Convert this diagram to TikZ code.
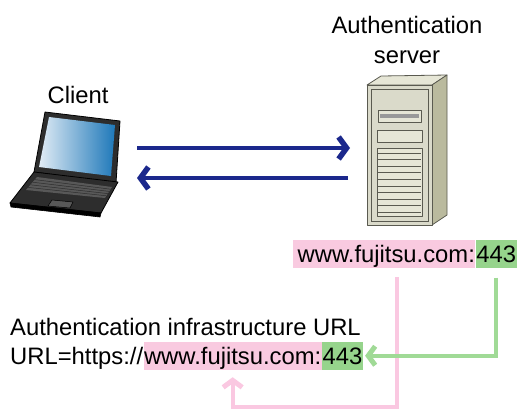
\documentclass[tikz,border=0pt]{standalone}
\usepackage{fontspec}
\setmainfont{Liberation Sans}
\usetikzlibrary{arrows.meta,calc}
\definecolor{navy}{RGB}{27,40,140}
\definecolor{hostpink}{RGB}{249,202,224}
\definecolor{portgreen}{RGB}{150,212,140}
\definecolor{linkpink}{RGB}{250,200,225}
\definecolor{linkgreen}{RGB}{160,218,150}
\definecolor{casefront}{RGB}{218,218,202}
\definecolor{caseside}{RGB}{186,186,158}
\definecolor{casetop}{RGB}{230,230,214}
\definecolor{caseline}{RGB}{90,90,80}
\definecolor{lapbody}{RGB}{45,45,45}
\definecolor{lapkeys}{RGB}{88,88,88}
\definecolor{screenlight}{RGB}{225,236,245}
\definecolor{screendark}{RGB}{30,120,185}
\begin{document}
\begin{tikzpicture}[x=1bp,y=-1bp,
  lbl/.style={inner sep=0pt, font=\fontsize{23.8bp}{30bp}\selectfont},
  hl/.style={lbl, inner xsep=0.5bp, text height=22bp, text depth=5.5bp},
  flow/.style={navy, line width=4bp, -{Straight Barb[length=8bp,width=22bp,line width=5.5bp]}},
  link/.style={line width=4bp, -{Straight Barb[length=7bp,width=19bp,line width=5bp]}},
  caseedge/.style={draw=caseline, line width=0.8bp, line join=round},
]
\useasboundingbox (0,0) rectangle (517,409);

% ---------- labels ----------
\node[lbl, anchor=base] (srvname) at (407,33) {Authentication};
\node[lbl, anchor=base] (srvname2) at (407,63) {server};
\node[lbl, anchor=base] (cliname) at (78,103) {Client};

% host:port of the authentication server
\node[hl, fill=hostpink, anchor=base west] (srvhost) at (293,262) {\kern4bp www.fujitsu.com:};
\node[hl, fill=portgreen, anchor=base west] (srvport) at (srvhost.base east) {443};

% infrastructure URL
\node[lbl, anchor=base west] (urltitle) at (10,335) {Authentication infrastructure URL};
\node[lbl, anchor=base west] (urlhead) at (10,364) {URL=https://};
\node[hl, fill=hostpink, anchor=base west] (urlhost) at (urlhead.base east) {www.fujitsu.com:};
\node[hl, fill=portgreen, anchor=base west] (urlport) at (urlhost.base east) {443};

% ---------- laptop ----------
% lid
\filldraw[fill=lapbody, draw=black, line width=0.8bp, line join=round]
  (45,112) -- (120,121) -- (116,183) -- (34,172) -- cycle;
\shade[left color=screenlight, right color=screendark]
  (49,117) -- (115,125) -- (111,176) -- (39,167) -- cycle;
% base
\filldraw[fill=lapbody, draw=black, line width=0.8bp, line join=round]
  (34,172) -- (118,182) -- (101,213) -- (10,203) -- cycle;
\filldraw[fill=black, draw=black, line width=0.6bp, line join=round]
  (10,203) -- (101,213) -- (100,217) -- (11,207) -- cycle;
% keyboard and touchpad
\fill[lapkeys] (37,177) -- (112,187) -- (105,198) -- (26,190) -- cycle;
\foreach \t in {0.2,0.4,0.6,0.8}
  \draw[lapbody, line width=0.5bp] ($(37,177)!\t!(26,190)$) -- ($(112,187)!\t!(105,198)$);
\filldraw[fill=lapkeys, draw=black, line width=0.5bp] (52,200) -- (73,202) -- (70,208) -- (48,206) -- cycle;

% ---------- server tower ----------
\filldraw[caseedge, fill=casetop] (367,85) -- (381,76) -- (447,75) -- (432,85) -- cycle;
\filldraw[caseedge, fill=caseside] (432,85) -- (447,75) -- (447,215) -- (432,225) -- cycle;
\filldraw[caseedge, fill=casefront] (367,85) rectangle (432,225);
\draw[caseline, line width=0.6bp] (371,89) rectangle (428,221);
% drive bays
\filldraw[caseedge, fill=casetop] (378,110) rectangle (421,122);
\fill[gray!80] (380,114) rectangle (419,118);
\filldraw[caseedge, fill=casetop] (377,130) rectangle (422,142);
% vent grille
\filldraw[caseedge, fill=casetop] (377,148) rectangle (422,216);
\foreach \k in {0,...,9}
  \draw[caseline, line width=0.8bp] (378,{153+6.6*\k}) -- (421,{153+6.6*\k});

% ---------- connectors ----------
\coordinate (cliout) at (137,148);
\coordinate (srvin)  at (350,148);
\coordinate (srvout) at (348,178);
\coordinate (cliin)  at (137,178);
\draw[flow] (cliout) -- (srvin);
\draw[flow] (srvout) -- (cliin);

\coordinate (hostdrop) at (397,277);
\coordinate (portdrop) at ([yshift=-10bp]srvport.south);
\draw[link, linkpink, shorten >=7.5bp] (hostdrop) -- (397,407) -| (urlhost.south);
\draw[link, linkgreen, shorten >=2bp] (portdrop) |- (urlport.east);
\end{tikzpicture}
\end{document}
